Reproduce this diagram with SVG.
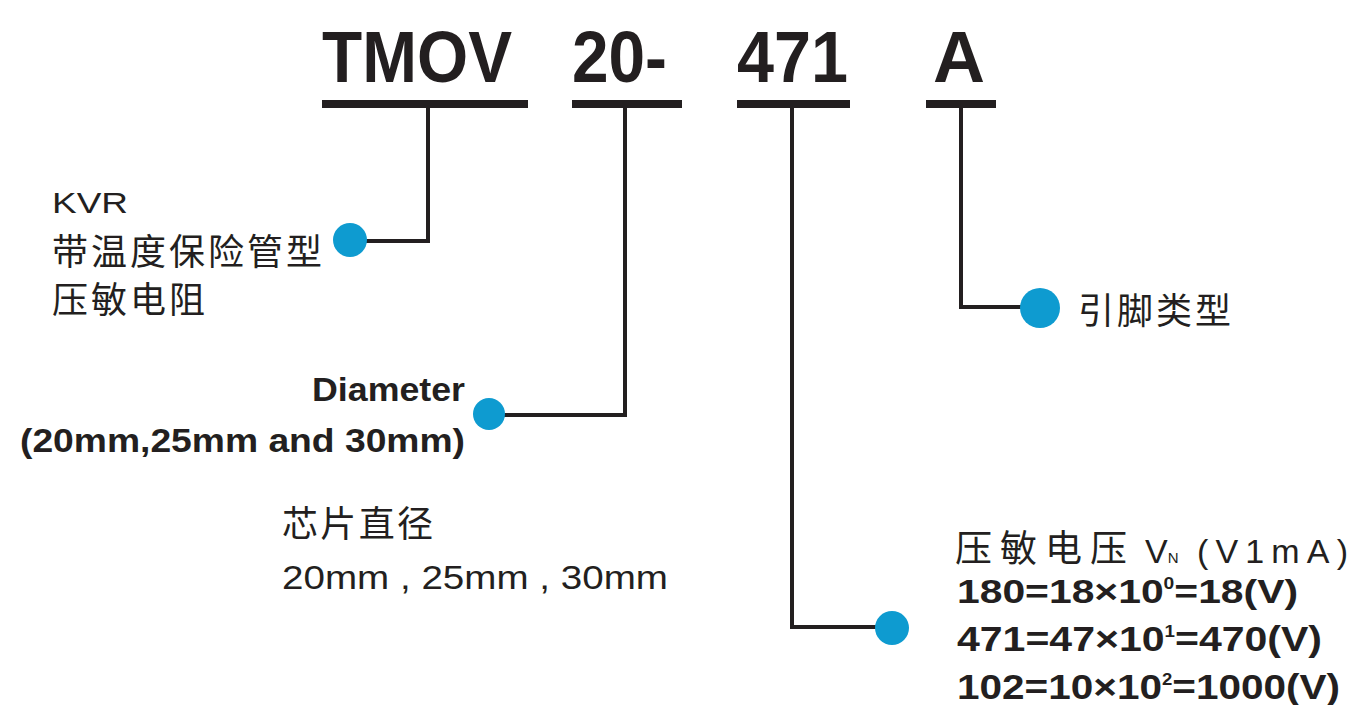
<svg xmlns="http://www.w3.org/2000/svg" width="1355" height="705" viewBox="0 0 1355 705">
<style>
.t{font-family:"Liberation Sans",Arial,sans-serif;font-weight:bold;font-size:72px;fill:#231f20}
.b{font-family:"Liberation Sans",Arial,sans-serif;font-weight:bold;fill:#231f20}
.r{font-family:"Liberation Sans",Arial,sans-serif;fill:#231f20}
.c{font-family:"Noto Sans CJK SC","Liberation Sans",sans-serif;fill:#231f20}
.ln{stroke:#231f20;stroke-width:4;fill:none}
.bar{fill:#231f20}
.dot{fill:#0e9bd0}
</style>
<g id="code">
<text class="t" x="322" y="82" textLength="190" lengthAdjust="spacingAndGlyphs">TMOV</text>
<text class="t" x="572" y="82" textLength="95" lengthAdjust="spacingAndGlyphs">20-</text>
<text class="t" x="737" y="82" textLength="111" lengthAdjust="spacingAndGlyphs">471</text>
<text class="t" x="933" y="82">A</text>
<rect class="bar" x="322" y="100" width="206" height="8"/>
<rect class="bar" x="572" y="100" width="110" height="8"/>
<rect class="bar" x="737" y="100" width="113" height="8"/>
<rect class="bar" x="926" y="100" width="70" height="8"/>
</g>
<g id="connectors">
<polyline class="ln" points="428,108 428,241 352,241"/>
<polyline class="ln" points="625,108 625,415 490,415"/>
<polyline class="ln" points="792,108 792,627 890,627"/>
<polyline class="ln" points="961,108 961,307 1040,307"/>
</g>
<g id="node-kvr">
<circle class="dot" cx="350" cy="240" r="17"/>
<text class="r" x="52" y="213" font-size="29" textLength="76" lengthAdjust="spacingAndGlyphs">KVR</text>
<text class="c" x="52" y="265" font-size="36" textLength="270" lengthAdjust="spacing">带温度保险管型</text>
<text class="c" x="52" y="313" font-size="36" textLength="153" lengthAdjust="spacing">压敏电阻</text>
</g>
<g id="node-diameter">
<circle class="dot" cx="489" cy="414" r="16"/>
<text class="b" x="312" y="401" font-size="33" textLength="153" lengthAdjust="spacingAndGlyphs">Diameter</text>
<text class="b" x="20" y="452" font-size="34" textLength="445" lengthAdjust="spacingAndGlyphs">(20mm,25mm and 30mm)</text>
<text class="c" x="282" y="537" font-size="36" textLength="151" lengthAdjust="spacing">芯片直径</text>
<text class="r" x="282" y="589" font-size="33" textLength="386" lengthAdjust="spacingAndGlyphs">20mm , 25mm , 30mm</text>
</g>
<g id="node-lead">
<circle class="dot" cx="1040" cy="308" r="20"/>
<text class="c" x="1078" y="324" font-size="36" textLength="153" lengthAdjust="spacing">引脚类型</text>
</g>
<g id="node-voltage">
<circle class="dot" cx="892" cy="628" r="17"/>
<text class="c" x="955" y="562" font-size="37" textLength="172" lengthAdjust="spacing">压敏电压</text>
<text class="r" x="1145" y="563" font-size="34">V<tspan font-size="15">N</tspan></text>
<text class="r" x="1197" y="563" font-size="34" textLength="151" lengthAdjust="spacing">(V1mA)</text>
<text class="b" x="957" y="603" font-size="34" textLength="341" lengthAdjust="spacingAndGlyphs">180=18×10<tspan font-size="16" dy="-14">0</tspan><tspan dy="14">=18(V)</tspan></text>
<text class="b" x="957" y="651" font-size="35" textLength="365" lengthAdjust="spacingAndGlyphs">471=47×10<tspan font-size="16" dy="-14">1</tspan><tspan dy="14">=470(V)</tspan></text>
<text class="b" x="957" y="699" font-size="35" textLength="383" lengthAdjust="spacingAndGlyphs">102=10×10<tspan font-size="16" dy="-14">2</tspan><tspan dy="14">=1000(V)</tspan></text>
</g>
</svg>
